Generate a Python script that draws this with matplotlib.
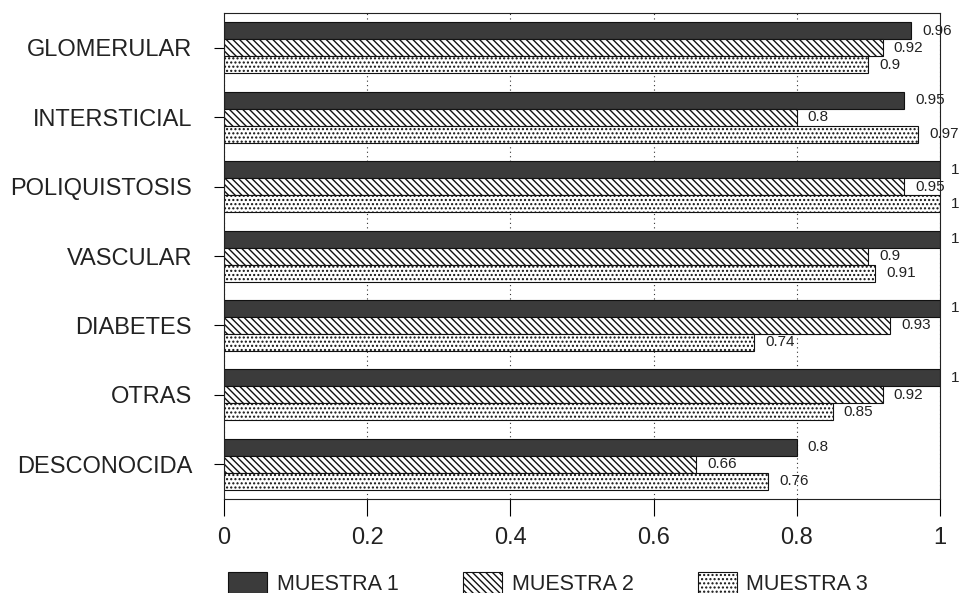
import numpy as np
import matplotlib
matplotlib.use("Agg")
from matplotlib import pyplot as plt

plt.rcParams['font.family'] = ['Liberation Sans', 'DejaVu Sans']
plt.rcParams['hatch.linewidth'] = 1.0

categorias = ["GLOMERULAR", "INTERSTICIAL", "POLIQUISTOSIS", "VASCULAR",
              "DIABETES", "OTRAS", "DESCONOCIDA"]
muestra1 = [0.96, 0.95, 1, 1, 1, 1, 0.8]
muestra2 = [0.92, 0.8, 0.95, 0.9, 0.93, 0.92, 0.66]
muestra3 = [0.9, 0.97, 1, 0.91, 0.74, 0.85, 0.76]
series = ["MUESTRA 1", "MUESTRA 2", "MUESTRA 3"]
xticks = [0, 0.2, 0.4, 0.6, 0.8, 1]

fig = plt.figure(figsize=(9.67, 5.93), dpi=100)
ax = fig.add_axes([0.2316, 0.1585, 0.972 - 0.2316, 0.978 - 0.1585])

y = np.arange(len(categorias))
h = 0.245
estilos = [dict(color="#3b3b3b", edgecolor="#111111", linewidth=0.8),
           dict(color="white", edgecolor="#111111", hatch="\\" * 5, linewidth=0.8),
           dict(color="white", edgecolor="#111111", hatch="....", linewidth=0.8)]

for i, (vals, nombre) in enumerate(zip([muestra1, muestra2, muestra3], series)):
    pos = y + (i - 1) * h
    ax.barh(pos, vals, height=h, label=nombre, zorder=2, **estilos[i])
    for p, v in zip(pos, vals):
        ax.annotate(f"{v:g}", (v, p), xytext=(8, 0), textcoords="offset points",
                    va="center", ha="left", fontsize=11, color="#222222",
                    annotation_clip=False)

ax.set_xlim(0, 1)
ax.set_ylim(len(categorias) - 0.5, -0.5)
ax.set_yticks(y)
ax.set_yticklabels(categorias, fontsize=17, color="#222222")
ax.set_xticks(xticks)
ax.set_xticklabels([f"{t:g}" for t in xticks], fontsize=17, color="#222222")
ax.tick_params(axis="y", length=7, width=0.8, pad=16)
ax.tick_params(axis="x", length=12, width=0.8, pad=8)
ax.grid(axis="x", linestyle=(0, (1, 3)), color="#333333", linewidth=0.8, zorder=0)
for s in ax.spines.values():
    s.set_linewidth(0.8)
    s.set_color("#222222")

fig.legend(loc="center", bbox_to_anchor=(0.567, 0.016), ncol=3, frameon=False,
           fontsize=15.5, handlelength=1.8, handleheight=1.1, handletextpad=0.45,
           columnspacing=3.0, labelcolor="#222222")

fig.savefig("out.png", dpi=100)
